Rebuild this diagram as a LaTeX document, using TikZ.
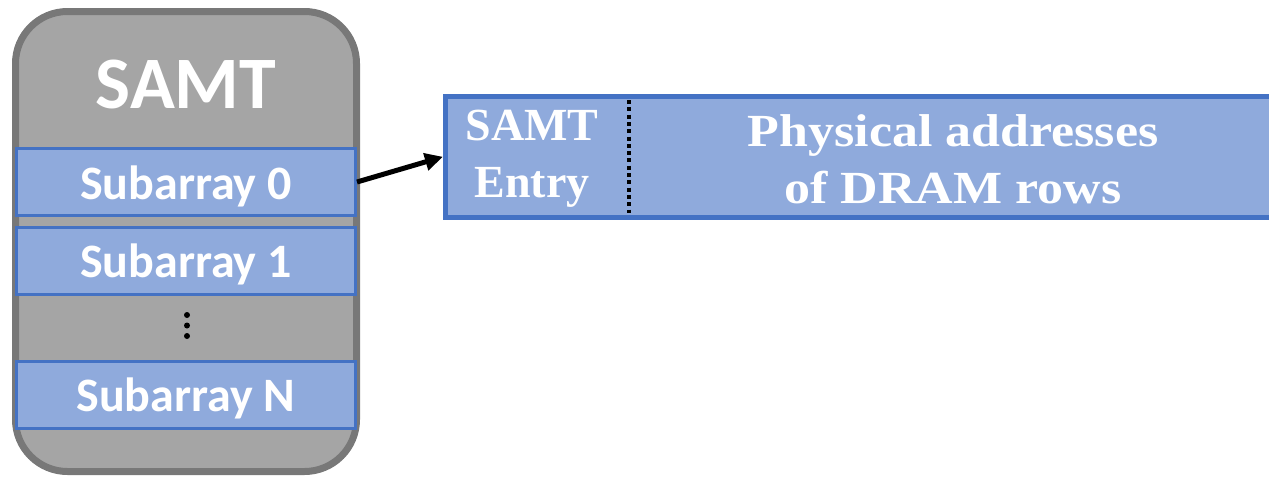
\documentclass[tikz,border=0pt]{standalone}
\usepackage{fontspec}
\setmainfont{Liberation Serif}
\newfontfamily\calib{Carlito}
\newfontfamily\widerserif[FakeStretch=1.13]{Liberation Serif}
\usetikzlibrary{arrows.meta}
\definecolor{boxgray}{HTML}{A5A5A5}
\definecolor{edgegray}{HTML}{787878}
\definecolor{boxblue}{HTML}{8FAADC}
\definecolor{edgeblue}{HTML}{4472C4}
\begin{document}
\begin{tikzpicture}[x=1pt,y=-1pt,
  subbox/.style={draw=edgeblue, fill=boxblue, line width=3pt, minimum width=339pt, minimum height=67pt, inner sep=0pt, text=white, font=\calib\bfseries\fontsize{48}{52}\selectfont},
  dotmark/.style={circle, fill=black, minimum size=6pt, inner sep=0pt},
  entrytext/.style={text=white, align=center, font=\bfseries\fontsize{46}{57}\selectfont, inner sep=0pt},
  linkarrow/.style={line width=5pt, -{Triangle[length=18pt,width=17pt]}}]
\useasboundingbox (0,0) rectangle (1269,477);
\clip (0,0) rectangle (1269,477);
\node (samtbox) [draw=edgegray, fill=boxgray, line width=7pt, rounded corners=52pt, minimum width=341pt, minimum height=460pt, inner sep=0pt] at (186,241.5) {};
\node (title) [anchor=base, text=white, font=\calib\bfseries\fontsize{74}{80}\selectfont, inner sep=0pt] at (186,108) {SAMT};
\node (sub0) [subbox] at (186,182) {};
\node (sub1) [subbox] at (186,260.5) {};
\node (subN) [subbox] at (186,394.5) {};
\node (t0) [subbox, draw=none, fill=none, anchor=base, minimum height=0pt] at (186,199) {Subarray 0};
\node (t1) [subbox, draw=none, fill=none, anchor=base, minimum height=0pt] at (186,277.5) {Subarray 1};
\node (tN) [subbox, draw=none, fill=none, anchor=base, minimum height=0pt] at (186,411.5) {Subarray N};
\node (d1) [dotmark] at (187,315) {};
\node (d2) [dotmark] at (187,325.5) {};
\node (d3) [dotmark] at (187,336) {};
\node (entry) [draw=edgeblue, fill=boxblue, line width=5pt, minimum width=854.5pt, minimum height=121.5pt, inner sep=0pt, anchor=west] at (443,156.75) {};
\coordinate (septop) at (629,100);
\coordinate (sepbot) at (629,213);
\draw[line width=4pt, dash pattern=on 4pt off 3.3pt] (septop) -- (sepbot);
\node (samtentry) [entrytext] at (532,159) {SAMT\\Entry};
\node (phys) [entrytext, font=\widerserif\bfseries\fontsize{46}{57}\selectfont] at (953,159) {Physical addresses\\of DRAM rows};
\draw[linkarrow] (sub0.east) -- (entry.west);
\end{tikzpicture}
\end{document}
